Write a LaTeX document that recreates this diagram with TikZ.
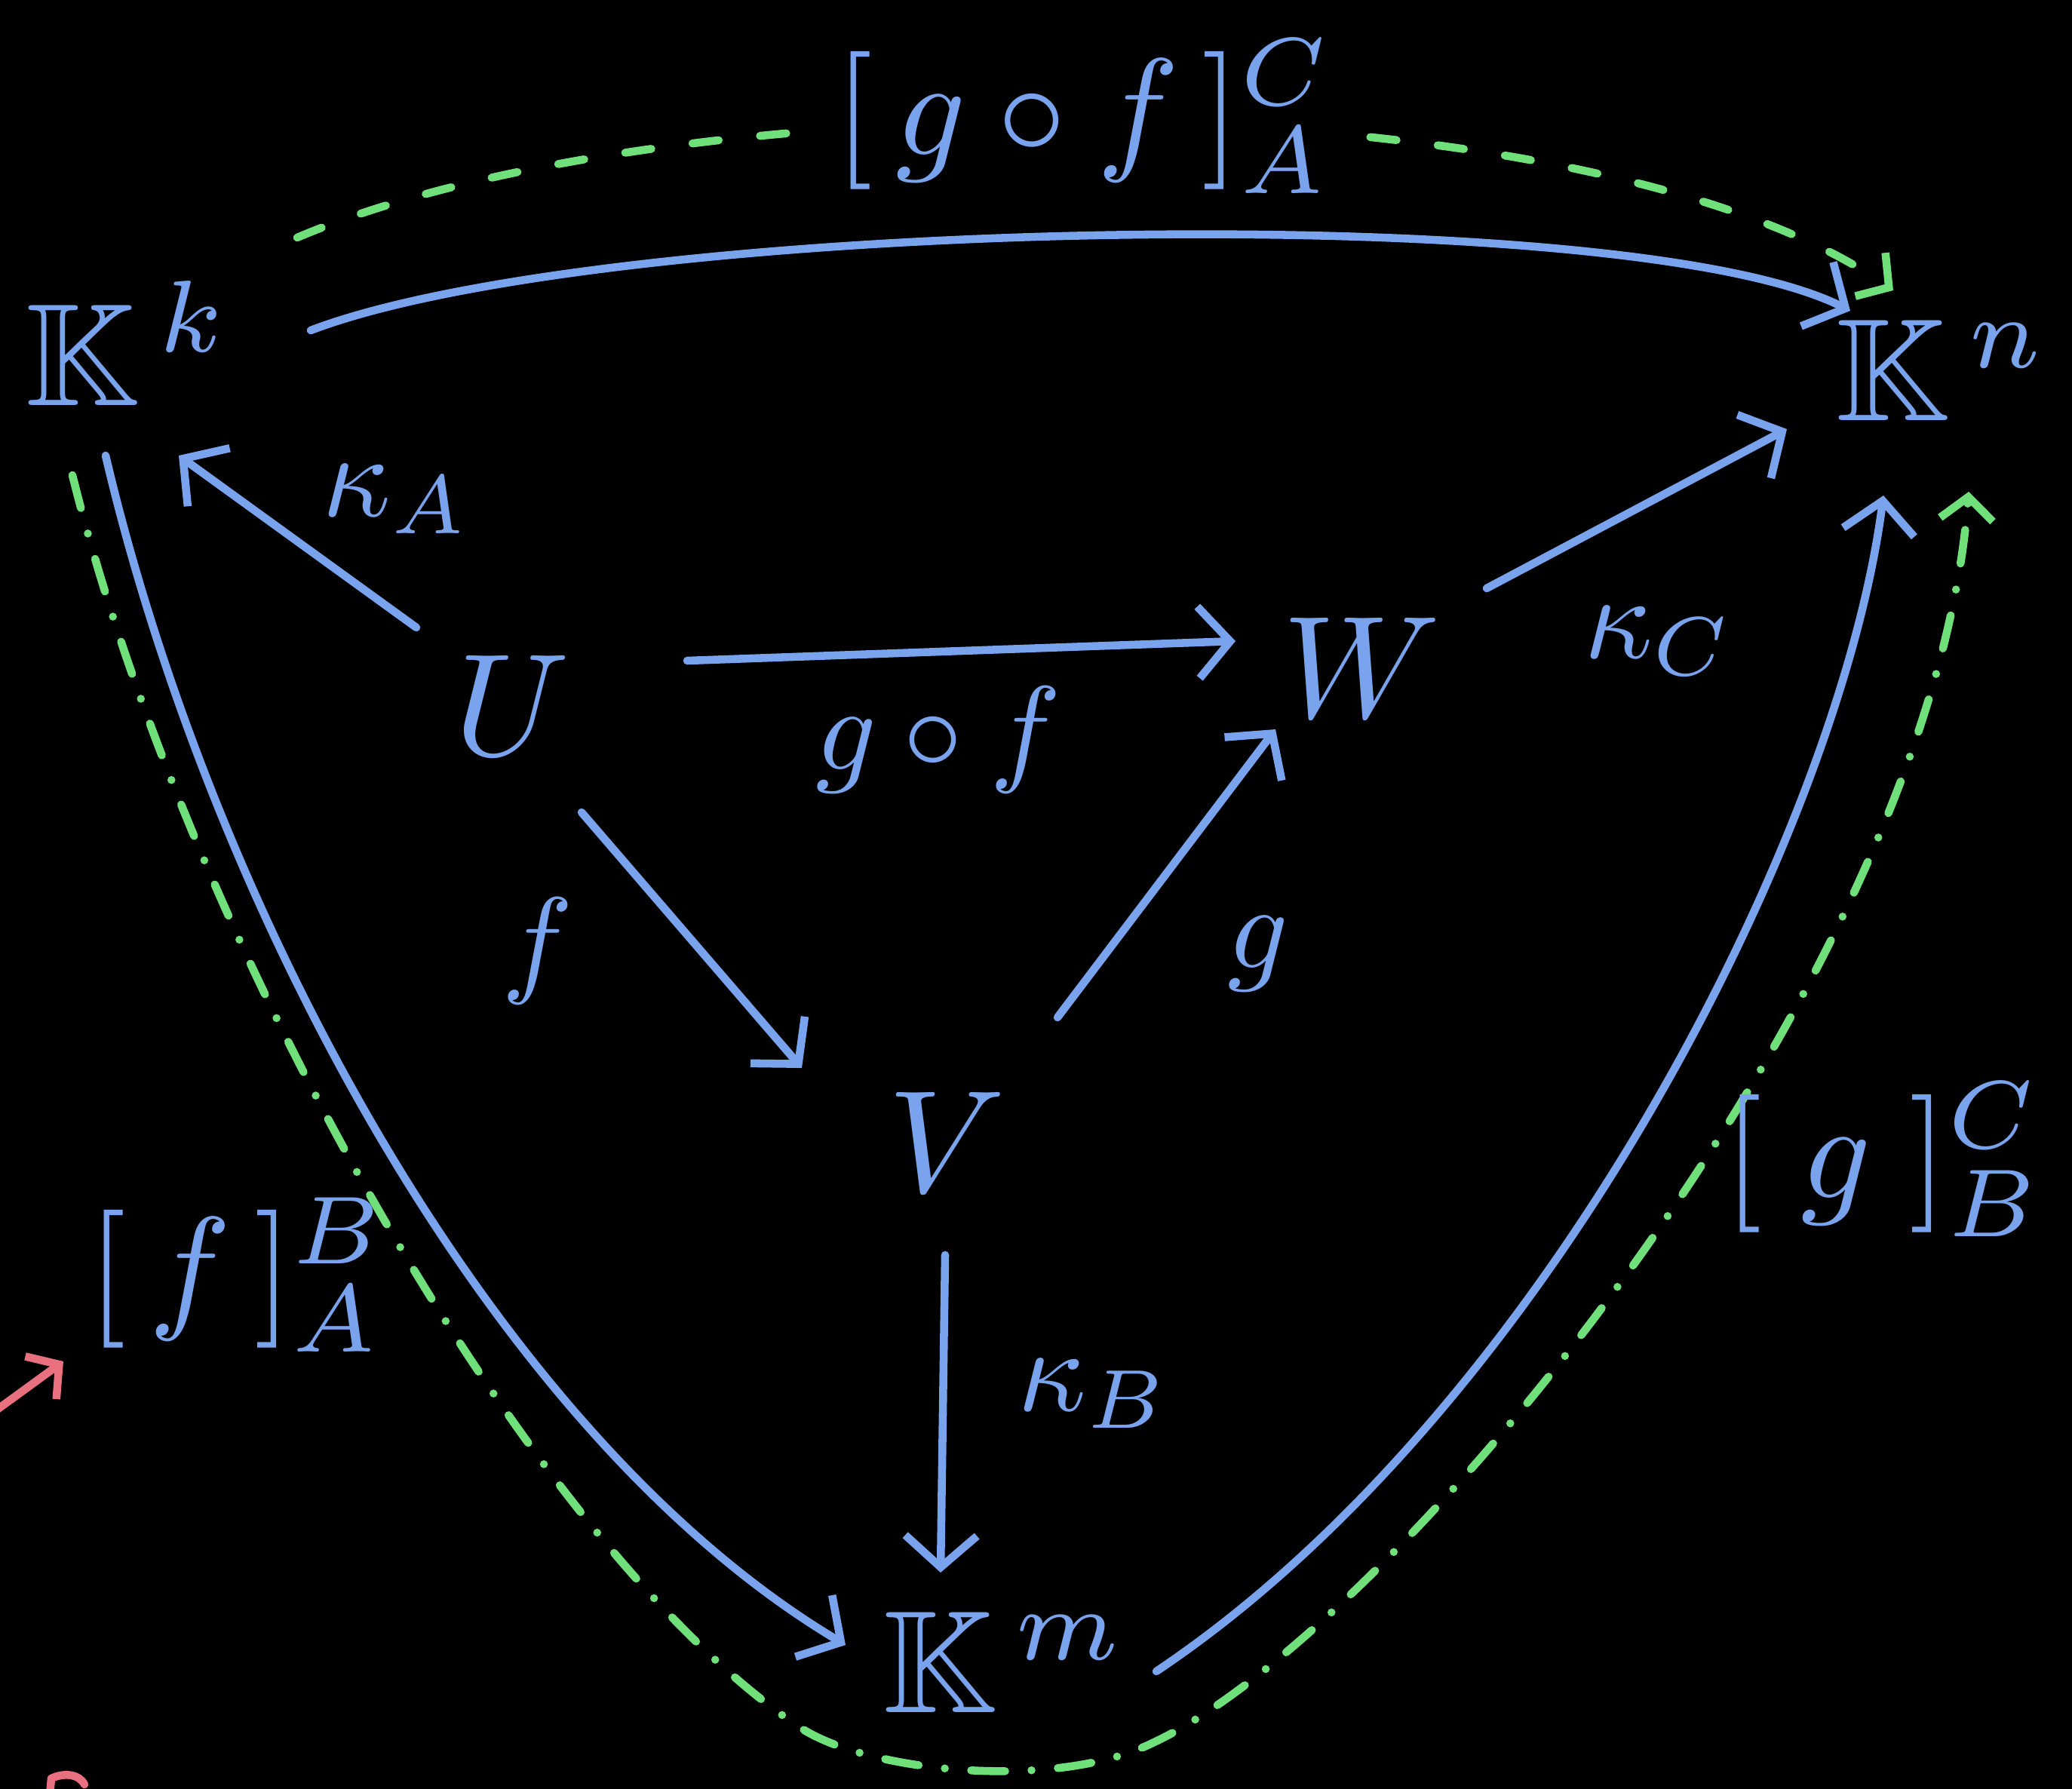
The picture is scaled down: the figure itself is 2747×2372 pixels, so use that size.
\documentclass[tikz,border=0pt]{standalone}
\usepackage{amssymb}
\usetikzlibrary{arrows.meta,calc}
\definecolor{inkblue}{HTML}{7AA3EE}
\definecolor{inkgreen}{HTML}{70E07A}
\definecolor{inkred}{HTML}{E8707F}
\begin{document}
\begin{tikzpicture}[x=0.01cm,y=-0.01cm,
  obj/.style={text=inkblue, scale=5.5, inner sep=0pt},
  lab/.style={text=inkblue, scale=4.5, inner sep=0pt},
  big/.style={text=inkblue, scale=5.2, inner sep=1.5pt, fill=black},
  bl/.style={draw=inkblue, line width=3pt, line cap=round, line join=round},
  arr/.style={bl, -{Straight Barb[length=0.42cm,width=0.95cm,line width=3pt]}},
  gr/.style={draw=inkgreen, line width=3pt, line cap=round, line join=round},
  grdash/.style={gr, dash pattern=on 0.35cm off 0.55cm},
  grdot/.style={gr, dash pattern=on 0.45cm off 0.35cm on 0pt off 0.35cm},
  garr/.style={-{Straight Barb[length=0.3cm,width=0.7cm,line width=3pt]}},
  rd/.style={draw=inkred, line width=3pt, line cap=round, line join=round}]
\useasboundingbox (0,0) rectangle (2747,2372);
\fill[black] (0,0) rectangle (2747,2372);
\clip (0,0) rectangle (2747,2372);

% objects
\node[obj] (Kk) at (170,455) {$\mathbb{K}^{\,k}$};
\node[obj] (Kn) at (2575,491) {$\mathbb{K}^{\,n}$};
\node[obj] (Km) at (1332,2204) {$\mathbb{K}^{\,m}$};
\node[obj] (U) at (679,935) {$U$};
\node[obj] (V) at (1255,1514) {$V$};
\node[obj] (W) at (1805,885) {$W$};

% green composite paths
\draw[grdash, garr] ($(Kk)+(224,-140)$) .. controls +(506,-215) and +(-410,-285) .. ($(Kn)+(-65,-106)$);
\draw[grdot, garr] ($(Kk)+(-74,175)$) .. controls (250,1250) and (700,2050) .. (1060,2290)
   .. controls (1150,2350) and (1400,2375) .. (1530,2310)
   .. controls (1850,2160) and (2560,1300) .. ($(Kn)+(35,161)$);

% blue arrows
\draw[arr] ($(U)+(-127,-103)$) -- ($(Kk)+(67,149)$);
\draw[arr] ($(U)+(232,-59)$) -- ($(W)+(-167,-35)$);
\draw[arr] ($(U)+(92,142)$) -- ($(V)+(-192,-98)$);
\draw[arr] ($(V)+(147,-165)$) -- ($(W)+(-114,82)$);
\draw[arr] ($(V)+(-2,150)$) -- ($(Km)+(-85,-119)$);
\draw[arr] ($(W)+(166,-105)$) -- ($(Kn)+(-206,78)$);
\draw[arr] ($(Kk)+(242,-17)$) .. controls +(388,-148) and +(-303,-152) .. ($(Kn)+(-122,-79)$);
\draw[arr] ($(Kk)+(-30,149)$) .. controls +(140,596) and +(-471,-281) .. ($(Km)+(-211,-23)$);
\draw[arr] ($(Km)+(201,12)$) .. controls +(517,-346) and +(-57,443) .. ($(Kn)+(-78,166)$);

% labels
\node[lab] (lkA) at (525,662) {$\kappa_A$};
\node[lab] (lkC) at (2199,850) {$\kappa_C$};
\node[lab] (lkB) at (1450,1848) {$\kappa_B$};
\node[lab] (lgf) at (1244,981) {$g\circ f$};
\node[lab] (lf) at (713,1261) {$f$};
\node[lab] (lg) at (1668,1265) {$g$};
\node[big] (mgf) at (1437,154) {$[\,g\circ f\,]^{C}_{A}$};
\node[big, fill=none] (mf) at (315,1690) {$[\,f\,]^{B}_{A}$};
\node[big, fill=none] (mg) at (2497,1537) {$[\;g\;]^{C}_{B}$};

% red fragments at the edge
\coordinate (r0) at (-30,1888);
\coordinate (r1) at (84,1805);
\draw[rd, -{Straight Barb[length=0.3cm,width=0.7cm,line width=3pt]}] (r0) -- (r1);
\coordinate (p0) at (66,2380);
\coordinate (p1) at (112,2366);
\draw[rd] (p0) -- (68,2358) .. controls (85,2350) and (105,2352) .. (p1);
\end{tikzpicture}
\end{document}
